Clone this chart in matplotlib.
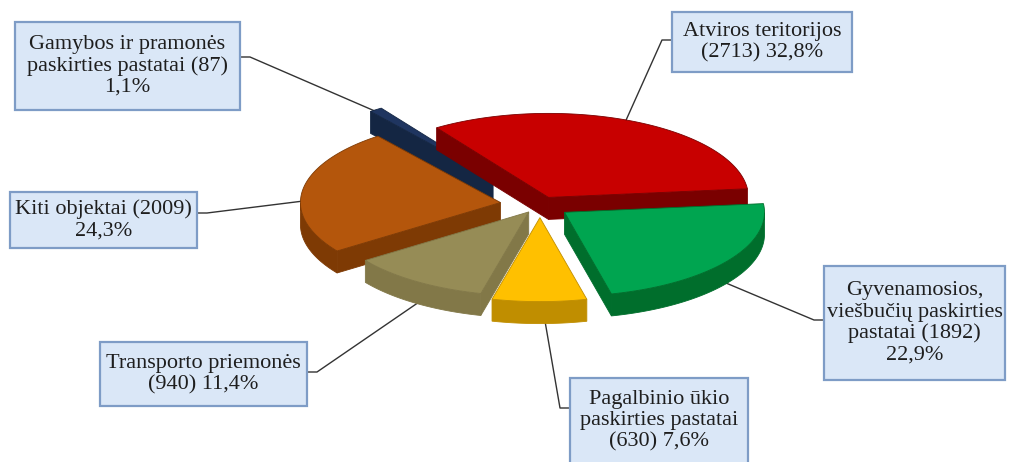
import numpy as np
import matplotlib.pyplot as plt
from matplotlib.patches import Polygon, Rectangle

# categories and counts
names = ["Atviros teritorijos",
         "Gyvenamosios,\nviešbučių paskirties\npastatai",
         "Pagalbinio ūkio\npaskirties pastatai",
         "Transporto priemonės",
         "Kiti objektai",
         "Gamybos ir pramonės\npaskirties pastatai"]
values = [2713, 1892, 630, 940, 2009, 87]
# separators: name -> (count), (count) -> percent
sep_name = ["\n", " ", "\n", "\n", " ", " "]
sep_pct = [" ", "\n", " ", " ", "\n", "\n"]

top_colors = ["#C80000", "#00A550", "#FFC000", "#968C56", "#B4560C", "#1F3560"]
side_colors = ["#7A0000", "#006E2C", "#C08E00", "#827848", "#7E3A04", "#142643"]
explode = [20, 30, 30, 20, 40, 80]

# label box layout: x0, y0, w, h (pixels), side of the leader line
boxes = [(672, 12, 180, 60, "left"),
         (824, 266, 181, 114, "left"),
         (570, 378, 178, 92, "left"),
         (100, 342, 207, 64, "right"),
         (10, 192, 187, 56, "right"),
         (15, 22, 225, 88, "right")]
text_dy = [0, 0, -3, 0, 0, 0]
line_y = [40, 320, 408, 372, 213, 57]
anchor_r = [0.85, 0.95, 0.6, 0.9, 1.0, 0.9]
anchor_down = [0, 1, 1, 1, 0.5, 0]

W, H = 1009, 462
cx, cy = 540, 205
rx = 200
tilt = 0.42
depth = 22
start = 124

plt.rcParams['font.family'] = ['Liberation Serif', 'DejaVu Serif']

fig = plt.figure(figsize=(W / 100, H / 100), dpi=100)
ax = fig.add_axes([0, 0, 1, 1])
ax.set_xlim(0, W)
ax.set_ylim(H, 0)
ax.axis("off")


def proj(u, v, down=0.0):
    return (cx + u, cy - v * tilt + down)


total = sum(values)
angles = []
a = start
for v in values:
    span = 360.0 * v / total
    angles.append((a, a - span))
    a -= span

slices = []
for i, (a1, a2) in enumerate(angles):
    mid = np.radians((a1 + a2) / 2)
    ox, oy = explode[i] * np.cos(mid), explode[i] * np.sin(mid)
    slices.append((i, a1, a2, mid, ox, oy))

# back-to-front drawing order
slices.sort(key=lambda s: -s[5])

for i, a1, a2, mid, ox, oy in slices:
    t = np.radians(np.linspace(a1, a2, 120))
    u = ox + rx * np.cos(t)
    v = oy + rx * np.sin(t)
    top = [proj(ox, oy)] + [proj(uu, vv) for uu, vv in zip(u, v)]
    col, side = top_colors[i], side_colors[i]

    # front part of the outer wall
    front = np.sin(t) < 0
    idx = np.where(front)[0]
    if len(idx) > 1:
        runs = np.split(idx, np.where(np.diff(idx) > 1)[0] + 1)
        for r in runs:
            if len(r) < 2:
                continue
            upper = [proj(u[k], v[k]) for k in r]
            lower = [proj(u[k], v[k], depth) for k in r[::-1]]
            ax.add_patch(Polygon(upper + lower, closed=True, fc=side,
                                 ec=side, lw=0.6, zorder=2))

    # radial walls facing the viewer
    for ang, vis in ((a1, np.cos(np.radians(a1)) < 0),
                     (a2, np.cos(np.radians(a2)) > 0)):
        if not vis:
            continue
        ex = ox + rx * np.cos(np.radians(ang))
        ey = oy + rx * np.sin(np.radians(ang))
        wall = [proj(ox, oy), proj(ex, ey), proj(ex, ey, depth), proj(ox, oy, depth)]
        ax.add_patch(Polygon(wall, closed=True, fc=side, ec=side, lw=0.6, zorder=2))

    ax.add_patch(Polygon(top, closed=True, fc=col, ec=side, lw=0.6, zorder=2))

# label boxes with leader lines
for i, (x0, y0, w, h, s) in enumerate(boxes):
    pct = f"{100 * values[i] / total:.1f}".replace(".", ",")
    txt = f"{names[i]}{sep_name[i]}({values[i]}){sep_pct[i]}{pct}%"
    ax.add_patch(Rectangle((x0, y0), w, h, fc="#DAE7F7", ec="#7E9CC6",
                           lw=1.6, zorder=3))
    ax.text(x0 + w / 2, y0 + h / 2 + text_dy[i], txt, ha="center", va="center",
            fontsize=16, color="#1E1E1E", linespacing=1.15, zorder=4)

    a1, a2 = angles[i]
    mid = np.radians((a1 + a2) / 2)
    ox, oy = explode[i] * np.cos(mid), explode[i] * np.sin(mid)
    r = rx * anchor_r[i]
    px, py = proj(ox + r * np.cos(mid), oy + r * np.sin(mid), depth * anchor_down[i])
    if s == "left":
        bx = x0
        elbow = bx - 10
    else:
        bx = x0 + w
        elbow = bx + 10
    ax.plot([px, elbow, bx], [py, line_y[i], line_y[i]], color="#333333",
            lw=1.0, zorder=1)

fig.savefig("out.png", dpi=100)
